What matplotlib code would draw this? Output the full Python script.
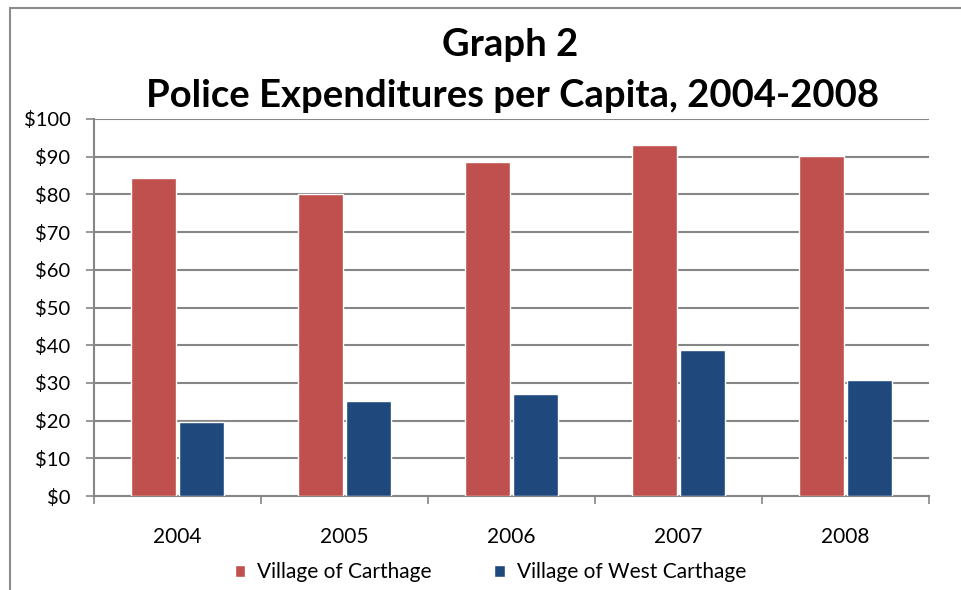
import matplotlib.pyplot as plt
import numpy as np
from matplotlib.patches import Rectangle
from matplotlib.ticker import FuncFormatter

years = ['2004', '2005', '2006', '2007', '2008']
carthage = [84.3, 80.1, 88.5, 93.1, 90.3]
west_carthage = [19.5, 25.1, 27.0, 38.8, 30.8]

red = '#c0504d'
blue = '#1f497d'
grid_col = '#868686'

plt.rcParams['font.family'] = ['Lato', 'DejaVu Sans']

fig = plt.figure(figsize=(9.62, 5.90), dpi=100)
ax = fig.add_axes([94 / 962, 1 - 496 / 590, (929 - 94) / 962, (496 - 119) / 590])

x = np.arange(len(years))
w = 0.275
ax.bar(x - w / 2 - 0.006, carthage, w, color=red, edgecolor='white', linewidth=1, zorder=3,
       label='Village of Carthage')
ax.bar(x + w / 2 + 0.006, west_carthage, w, color=blue, edgecolor='white', linewidth=1, zorder=3,
       label='Village of West Carthage')

ax.set_xlim(-0.5, len(years) - 0.5)
ax.set_ylim(0, 100)
ax.set_yticks(range(0, 101, 10))
ax.yaxis.set_major_formatter(FuncFormatter(lambda v, p: f'${v:.0f}'))
ax.yaxis.grid(True, color=grid_col, linewidth=1.5, zorder=1)
ax.set_axisbelow(True)

ax.set_xticks(x)
ax.set_xticklabels(years)
ax.set_xticks(np.arange(-0.5, len(years)), minor=True)
ax.tick_params(axis='x', which='major', length=0, pad=22, labelsize=15)
ax.tick_params(axis='x', which='minor', length=6, color=grid_col, width=1.2)
ax.tick_params(axis='y', length=6, color=grid_col, width=1.2, labelsize=14.5, pad=11)

for s in ['top', 'right']:
    ax.spines[s].set_visible(False)
for s in ['left', 'bottom']:
    ax.spines[s].set_color(grid_col)
    ax.spines[s].set_linewidth(1.5)

fig.text(0.530, 1 - 45 / 590, 'Graph 2', ha='center', va='center', fontsize=27.5, fontweight='bold')
fig.text(0.533, 1 - 96 / 590, 'Police Expenditures per Capita, 2004-2008', ha='center', va='center',
         fontsize=27.5, fontweight='bold')

fig.legend(loc='center', bbox_to_anchor=(0.51, 1 - 572 / 590), ncol=2, frameon=False,
           fontsize=15, handlelength=0.5, handleheight=0.5, columnspacing=3, handletextpad=0.6)

fig.patches.append(Rectangle((10 / 962, -0.1), 2, 1 - 8 / 590 + 0.1, transform=fig.transFigure,
                             fill=False, edgecolor='#8c8c8c', linewidth=1.5))

fig.savefig('out.png', dpi=100)
